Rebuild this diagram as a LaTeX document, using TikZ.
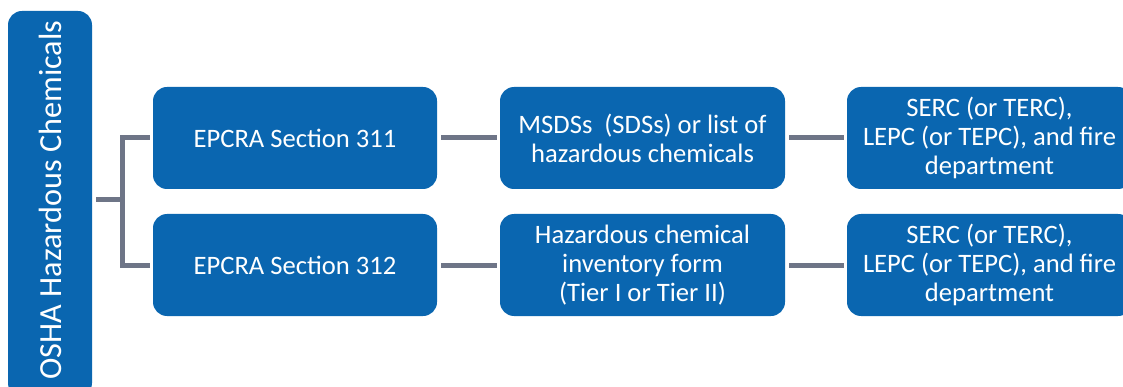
\documentclass[tikz,border=0pt]{standalone}
\usepackage{fontspec}
\setmainfont{Carlito}
\definecolor{boxblue}{RGB}{10,102,176}
\definecolor{linegray}{RGB}{110,117,135}
\begin{document}
\begin{tikzpicture}[x=1pt,y=-1pt,
  box/.style={draw=none,fill=boxblue,rounded corners=14pt,text=white,align=center,
    minimum width=285pt,minimum height=102pt,inner sep=0pt,
    font=\fontsize{26.6}{29}\selectfont},
  link/.style={draw=linegray,line width=5pt}]
\useasboundingbox (0,0) rectangle (1123,387);
\clip (0,0) rectangle (1123,387);
\node[box,minimum width=84pt,minimum height=386pt] (osha) at (50,204) {};
\node[text=white,rotate=90,font=\fontsize{32.2}{36}\selectfont,inner sep=0pt] (oshat) at (50,200) {OSHA Hazardous Chemicals};
\node[box,minimum width=284pt] (s311) at (295,138) {EPCRA Section 311};
\node[box,minimum width=284pt] (s312) at (295,265) {EPCRA Section 312};
\node[box] (msds) at (642.5,138) {MSDSs\ \ (SDSs) or list of\\hazardous chemicals};
\node[box] (haz) at (642.5,265) {Hazardous chemical\\inventory form\\(Tier I or Tier II)};
\node[box] (serc1) at (989.5,138) {SERC (or TERC),\\LEPC (or TEPC), and fire\\department};
\node[box] (serc2) at (989.5,265) {SERC (or TERC),\\LEPC (or TEPC), and fire\\department};
\coordinate (j) at (122,200);
\draw[link,shorten <=4pt] (osha.east |- j) -- (j);
\draw[link,shorten <=3pt,shorten >=3pt] (s311.west) -| (j) |- (s312.west);
\draw[link,shorten <=4pt,shorten >=3pt] (s311) -- (msds);
\draw[link,shorten <=4pt,shorten >=3pt] (s312) -- (haz);
\draw[link,shorten <=4pt,shorten >=3pt] (msds) -- (serc1);
\draw[link,shorten <=4pt,shorten >=3pt] (haz) -- (serc2);
\end{tikzpicture}
\end{document}
